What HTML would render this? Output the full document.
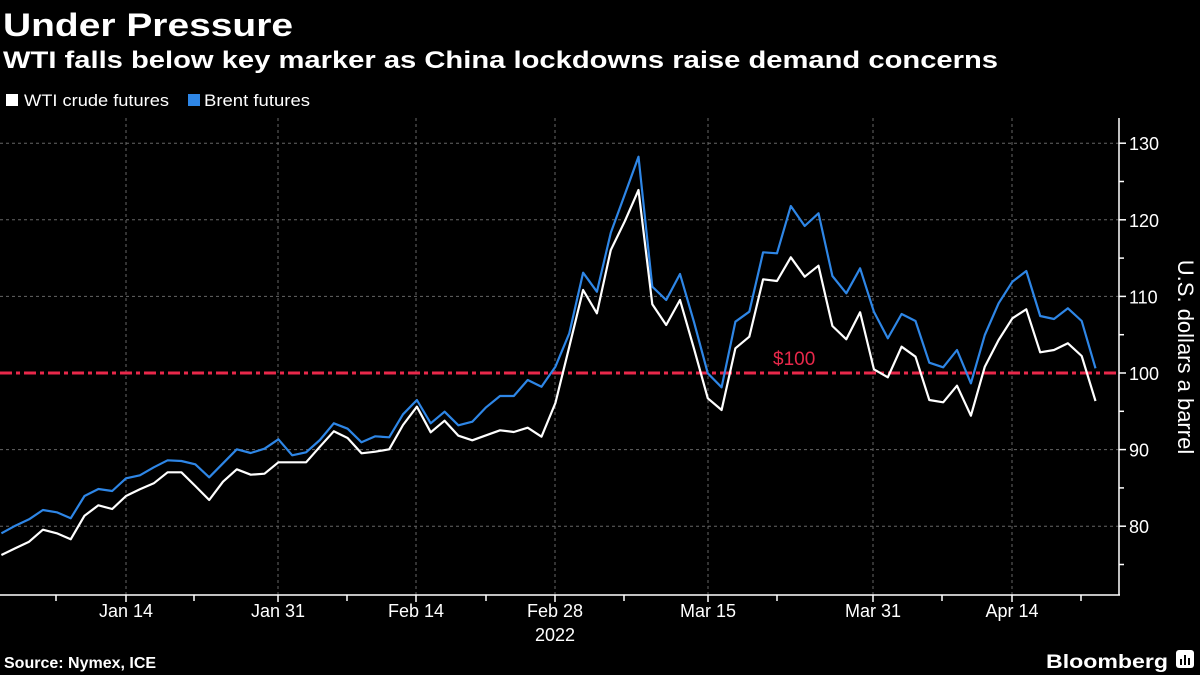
<!DOCTYPE html>
<html><head><meta charset="utf-8"><style>
html,body{margin:0;padding:0;background:#000;}
svg{display:block;font-family:"Liberation Sans",sans-serif;}
</style></head><body>
<svg id="s" width="1200" height="675" viewBox="0 0 1200 675" xmlns="http://www.w3.org/2000/svg">
<rect width="1200" height="675" fill="#000"/>
<text x="3" y="36" fill="#fff" font-size="32" font-weight="bold" textLength="290" lengthAdjust="spacingAndGlyphs">Under Pressure</text>
<text x="3" y="68" fill="#fff" font-size="24" font-weight="bold" textLength="995" lengthAdjust="spacingAndGlyphs">WTI falls below key marker as China lockdowns raise demand concerns</text>
<rect x="6" y="94" width="12" height="12" fill="#fff"/>
<text x="24" y="106" fill="#fff" font-size="17" textLength="145" lengthAdjust="spacingAndGlyphs">WTI crude futures</text>
<rect x="188" y="94" width="12" height="12" fill="#2e86e6"/>
<text x="204" y="106" fill="#fff" font-size="17" textLength="106" lengthAdjust="spacingAndGlyphs">Brent futures</text>
<g id="grid" stroke="#666" stroke-width="1" stroke-dasharray="3,3"></g>
<line x1="0" y1="373" x2="1119" y2="373" stroke="#e8284a" stroke-width="3" stroke-dasharray="12,4,4,4"/>
<text x="773" y="365" fill="#e8284a" font-size="19">$100</text>
<polyline id="brent" fill="none" stroke="#2e86e6" stroke-width="2.2" stroke-linejoin="round"/>
<polyline id="wti" fill="none" stroke="#fff" stroke-width="2.2" stroke-linejoin="round"/>
<line x1="0" y1="595" x2="1120" y2="595" stroke="#fff" stroke-width="1.5"/>
<line x1="1119" y1="118" x2="1119" y2="595" stroke="#fff" stroke-width="1.5"/>
<g id="ax" fill="#fff" font-size="18"></g>
<text transform="translate(1178,357) rotate(90)" text-anchor="middle" fill="#fff" font-size="22">U.S. dollars a barrel</text>
<text x="4" y="668" fill="#fff" font-size="16" font-weight="bold">Source: Nymex, ICE</text>
<text x="1046" y="668" fill="#fff" font-size="19" font-weight="bold" textLength="122" lengthAdjust="spacingAndGlyphs">Bloomberg</text>
<rect x="1176" y="650" width="18" height="18" rx="3" fill="#fff"/>
<rect x="1180" y="659" width="2" height="6" fill="#000"/><rect x="1184" y="655" width="2" height="10" fill="#000"/><rect x="1188" y="658" width="2" height="7" fill="#000"/>
</svg>
<script>
var NS="http://www.w3.org/2000/svg";
function el(t,a,p,txt){var e=document.createElementNS(NS,t);for(var k in a)e.setAttribute(k,a[k]);if(txt)e.textContent=txt;document.getElementById(p).appendChild(e);return e;}
var b1=[460,437,418,390,397,415,348,327,333,295,286,262,241,243,253,292,250,208,219,206,178,226,217,180,130,146,187,169,172,103,60,130,95,136,125,82,48,48,0,20];
var w1=[525,505,485,449,460,478,407,376,387,348,328,310,277,277,318,360,305,268,284,281,247,247,247,200,154,174,220,215,208,135,80,157,122,167,181,166,151,156,143,170];
var b2=[680,580,398,455,278,165,50,440,480,402,545,700,742,545,515,337,340,198,258,220,408,460,385,515,595,522,543,668,682,630,730,585,490,425,393,528,537,505,543,685];
var w2=[789,620,450,520,330,245,150,493,555,480,625,775,810,625,590,418,423,352,410,377,558,598,517,688,712,620,650,780,787,737,827,680,600,535,508,637,630,610,648,783];
function pts(a1,a2){var p=[];for(var i=0;i<80;i++){var y=i<40?380+a1[i]/3:140+a2[i-40]/3;p.push((1.4+13.85*i).toFixed(1)+","+y.toFixed(1));}return p.join(" ");}
document.getElementById("brent").setAttribute("points",pts(b1,b2));
document.getElementById("wti").setAttribute("points",pts(w1,w2));
var majors=[[126,"Jan 14"],[278,"Jan 31"],[416,"Feb 14"],[555,"Feb 28"],[708,"Mar 15"],[873,"Mar 31"],[1012,"Apr 14"]];
var minors=[56,194,347,486,624,777,942,1081];
majors.forEach(function(m){el("line",{x1:m[0],y1:118,x2:m[0],y2:595},"grid");el("line",{x1:m[0],y1:595,x2:m[0],y2:602,stroke:"#fff","stroke-width":1.5},"ax");el("text",{x:m[0],y:617,"text-anchor":"middle"},"ax",m[1]);});
minors.forEach(function(x){el("line",{x1:x,y1:595,x2:x,y2:601,stroke:"#fff","stroke-width":1.5},"ax");});
el("text",{x:555,y:641,"text-anchor":"middle"},"ax","2022");
[80,90,100,110,120,130].forEach(function(v){var y=373-(v-100)*7.66;if(v!=100)el("line",{x1:0,y1:y,x2:1119,y2:y},"grid");el("line",{x1:1119,y1:y,x2:1126,y2:y,stroke:"#fff","stroke-width":1.5},"ax");el("text",{x:1129,y:y+7},"ax",String(v));});
[75,85,95,105,115,125].forEach(function(v){var y=373-(v-100)*7.66;el("line",{x1:1119,y1:y,x2:1124,y2:y,stroke:"#fff","stroke-width":1.5},"ax");});
</script>
</body></html>
